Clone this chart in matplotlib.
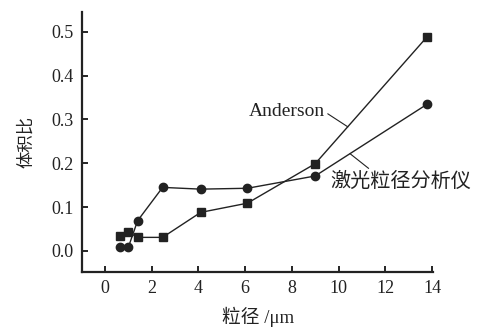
import matplotlib
matplotlib.use("Agg")
import matplotlib.pyplot as plt

# particle size (um) and volume fraction
anderson_x = [0.64, 1.0, 1.4, 2.47, 4.1, 6.1, 9.0, 13.8]
anderson_y = [0.034, 0.043, 0.031, 0.031, 0.088, 0.109, 0.199, 0.489]
laser_x = [0.64, 1.0, 1.4, 2.47, 4.1, 6.1, 9.0, 13.8]
laser_y = [0.008, 0.008, 0.069, 0.145, 0.141, 0.143, 0.171, 0.335]

x_ticks = [0, 2, 4, 6, 8, 10, 12, 14]
y_ticks = [0.0, 0.1, 0.2, 0.3, 0.4, 0.5]

SERIF = ["Liberation Serif", "DejaVu Serif"]
CJK = ["Noto Sans CJK SC", "Liberation Serif"]
MIXED = ["Liberation Serif", "Noto Sans CJK SC"]
INK = "#222222"

fig = plt.figure(figsize=(4.81, 3.28), dpi=100)
ax = fig.add_axes([0.1705, 0.1707, 0.7305, 0.7927])

ax.plot(anderson_x, anderson_y, color=INK, lw=1.0, marker="s", ms=6)
ax.plot(laser_x, laser_y, color=INK, lw=1.0, marker="o", ms=6)

ax.set_xlim(-0.98, 14.06)
ax.set_ylim(-0.048, 0.545)
ax.set_xticks(x_ticks)
ax.set_yticks(y_ticks)
ax.set_xticklabels([str(v) for v in x_ticks], family=SERIF, fontsize=13, color=INK)
ax.set_yticklabels([f"{v:.1f}" for v in y_ticks], family=SERIF, fontsize=13, color=INK)
ax.tick_params(direction="in", length=4, width=1.2, pad=6)

for side in ("top", "right"):
    ax.spines[side].set_visible(False)
for side in ("left", "bottom"):
    ax.spines[side].set_linewidth(1.6)
    ax.spines[side].set_color(INK)

ax.set_xlabel("粒径 /μm", family=MIXED, fontsize=13.5, color=INK, labelpad=7)
ax.set_ylabel("体积比", family=CJK, fontsize=12.5, color=INK, labelpad=12)

ax.annotate("Anderson", xy=(10.4, 0.283), xytext=(9.42, 0.317),
            ha="right", va="center", family=SERIF, fontsize=14, color=INK,
            arrowprops=dict(arrowstyle="-", color=INK, lw=0.8, relpos=(1.0, 0.5),
                            shrinkA=0, shrinkB=0))
ax.annotate("激光粒径分析仪", xy=(10.49, 0.222), xytext=(9.63, 0.158),
            ha="left", va="center", family=CJK, fontsize=14.5, color=INK,
            arrowprops=dict(arrowstyle="-", color=INK, lw=0.8, relpos=(0.3, 1.0),
                            shrinkA=0, shrinkB=0))

fig.savefig("out.png", dpi=100)
